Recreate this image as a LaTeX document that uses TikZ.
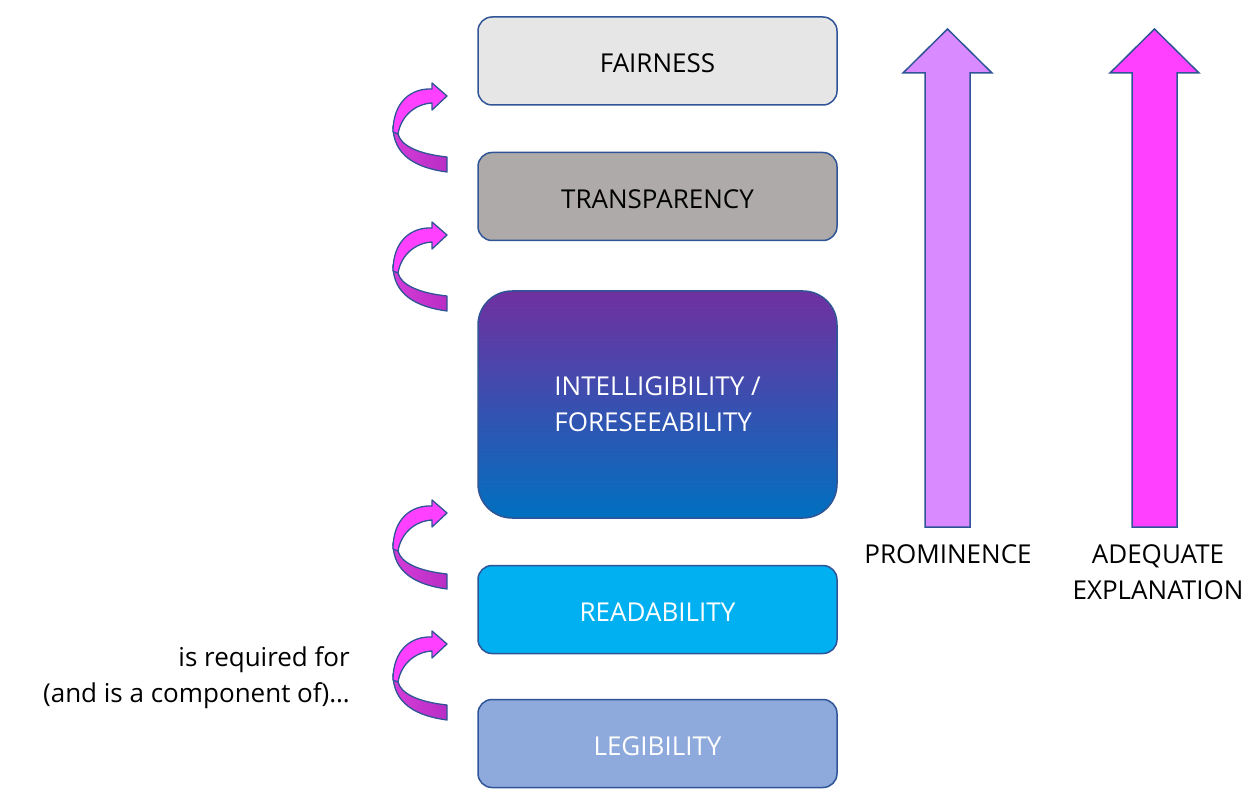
\documentclass[tikz,border=0pt]{standalone}
\usepackage{fontspec}
\setmainfont{Open Sans}
\definecolor{edge}{HTML}{2F5597}
\definecolor{fairc}{HTML}{E6E6E6}
\definecolor{transc}{HTML}{AEAAAA}
\definecolor{readc}{HTML}{00B0F0}
\definecolor{legc}{HTML}{8EA9DB}
\definecolor{gradtop}{HTML}{7030A0}
\definecolor{gradbot}{HTML}{0070C0}
\definecolor{promc}{HTML}{D98AFF}
\definecolor{adeqc}{HTML}{FF40FF}
\definecolor{upc}{HTML}{FF40FF}
\definecolor{lowa}{HTML}{D43CD8}
\definecolor{lowb}{HTML}{B82EC4}
\begin{document}
\begin{tikzpicture}[x=1pt,y=-1pt,
  boxbase/.style={draw=edge, line width=1.5pt, rounded corners=14pt, minimum width=359pt,
    minimum height=88pt, inner sep=0pt, font=\fontsize{26}{36}\selectfont},
  box/.style={boxbase, text height=24pt, text depth=0pt},
  lbl/.style={font=\fontsize{26}{36}\selectfont, inner sep=0pt, text=black},
  bigarrow/.style={draw=edge, line width=1.5pt, line join=miter},
  curvarrow/.pic={
    \draw[edge, line width=1.3pt, line join=round, left color=lowa, right color=lowb]
      (-54,30) .. controls (-54,60) and (-30,72) .. (0,76) -- (0,61)
      .. controls (-28,58) and (-46,50) .. (-49,38) -- cycle;
    \draw[edge, line width=1.3pt, line join=round, fill=upc]
      (-15,-7) .. controls (-35,-8) and (-54,5) .. (-54,36) -- (-49,38)
      .. controls (-46,20) and (-32,8) .. (-15,7) -- (-15,14) -- (0,0) -- (-15,-13) -- cycle;
  }]
\useasboundingbox (0,0) rectangle (1258,794);

% boxes
\node[box, fill=fairc, text=black] (fair) at (657.5,61) {FAIRNESS};
\node[box, fill=transc, text=black] (trans) at (657.5,196.5) {TRANSPARENCY};
\node[boxbase, rounded corners=34pt, minimum height=227pt, top color=gradtop, bottom color=gradbot,
  text=white, align=left] (intel) at (657.5,404.5) {INTELLIGIBILITY /\\FORESEEABILITY};
\node[box, fill=readc, text=white] (read) at (657.5,609.5) {READABILITY};
\node[box, fill=legc, text=white] (leg) at (657.5,743.5) {LEGIBILITY};

% curved arrows
\pic at (447,96) {curvarrow};
\pic at (447,235) {curvarrow};
\pic at (447,513) {curvarrow};
\pic at (447,644) {curvarrow};

% big arrows
\draw[bigarrow, fill=promc] (925,527) -- (925,73) -- (903,73) -- (947.5,29) -- (992,73) -- (970,73) -- (970,527) -- cycle;
\draw[bigarrow, fill=adeqc] (1132,527) -- (1132,73) -- (1110,73) -- (1154.5,29) -- (1199,73) -- (1177,73) -- (1177,527) -- cycle;

% labels
\node[lbl] (prom) at (948,554) {PROMINENCE};
\node[lbl, align=center] (adeq) at (1158,572) {ADEQUATE\\EXPLANATION};
\node[lbl, align=right, anchor=east] (req) at (350,677.5) {is required for\\(and is a component of)…};
\end{tikzpicture}
\end{document}
